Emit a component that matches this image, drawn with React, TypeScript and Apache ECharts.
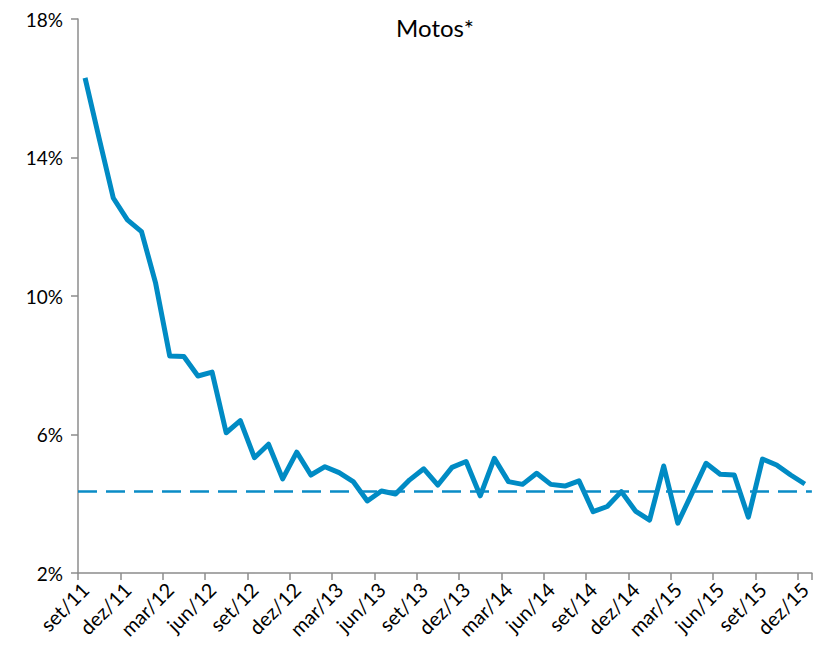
import React, { useEffect, useRef } from "react";
import * as echarts from "echarts";

const months = ["set", "out", "nov", "dez", "jan", "fev", "mar", "abr", "mai", "jun", "jul", "ago"];
const startYear = 11;
const categories: string[] = [];
for (let i = 0; i < 52; i++) {
  const m = months[i % 12];
  const y = startYear + Math.floor((i + 8) / 12);
  categories.push(`${m}/${y}`);
}

const motos = [
  16.3, 14.55, 12.83, 12.2, 11.86, 10.37, 8.27, 8.25, 7.69, 7.8,
  6.05, 6.4, 5.33, 5.72, 4.72, 5.49, 4.83, 5.07, 4.9, 4.64,
  4.08, 4.37, 4.28, 4.69, 5.01, 4.54, 5.05, 5.22, 4.23, 5.31,
  4.64, 4.56, 4.88, 4.56, 4.51, 4.66, 3.77, 3.92, 4.35, 3.79,
  3.53, 5.09, 3.44, 4.3, 5.17, 4.85, 4.83, 3.61, 5.29, 5.12,
  4.83, 4.57,
];

const average = 4.35;
const yTicks = { min: 2, max: 18, interval: 4 };
const title = "Motos*";

export default function App() {
  const ref = useRef<HTMLDivElement>(null);
  useEffect(() => {
    if (!ref.current) return;
    const chart = echarts.init(ref.current, null, { renderer: "svg" });
    const font = "Lato, 'Open Sans', sans-serif";
    chart.setOption({
      animation: false,
      backgroundColor: "#ffffff",
      graphic: [
        {
          type: "text",
          x: 435,
          y: 27,
          style: {
            text: title,
            fontSize: 24,
            fontFamily: font,
            fill: "#000",
            textAlign: "center",
            textVerticalAlign: "middle",
          },
        },
      ],
      grid: { left: 78, right: 1, top: 19, bottom: 89, containLabel: false },
      xAxis: {
        type: "category",
        data: categories,
        boundaryGap: true,
        axisLine: { lineStyle: { color: "#8c8c8c", width: 1.5 } },
        axisTick: { show: true, interval: 2, length: 7, lineStyle: { color: "#8c8c8c", width: 1.5 } },
        axisLabel: {
          interval: 2,
          rotate: 45,
          margin: 13,
          fontSize: 20,
          fontFamily: font,
          color: "#000",
        },
        splitLine: { show: false },
      },
      yAxis: {
        type: "value",
        min: yTicks.min,
        max: yTicks.max,
        interval: yTicks.interval,
        axisLine: { show: true, lineStyle: { color: "#8c8c8c", width: 1.5 } },
        axisTick: { show: true, length: 7, lineStyle: { color: "#8c8c8c", width: 1.5 } },
        axisLabel: {
          formatter: (v: number) => `${v}%`,
          margin: 15,
          fontSize: 19,
          fontFamily: font,
          color: "#000",
        },
        splitLine: { show: false },
      },
      series: [
        {
          type: "line",
          data: motos,
          showSymbol: false,
          symbol: "none",
          lineStyle: { color: "#008bc4", width: 5, join: "round" },
          markLine: {
            silent: true,
            symbol: "none",
            label: { show: false },
            lineStyle: { color: "#0a8cc6", width: 2.5, type: [19, 9] },
            data: [{ yAxis: average }],
          },
        },
      ],
    });
    return () => chart.dispose();
  }, []);
  return (
    <div
      ref={ref}
      style={{ position: "fixed", left: 0, top: 0, width: 814, height: 662 }}
    />
  );
}
